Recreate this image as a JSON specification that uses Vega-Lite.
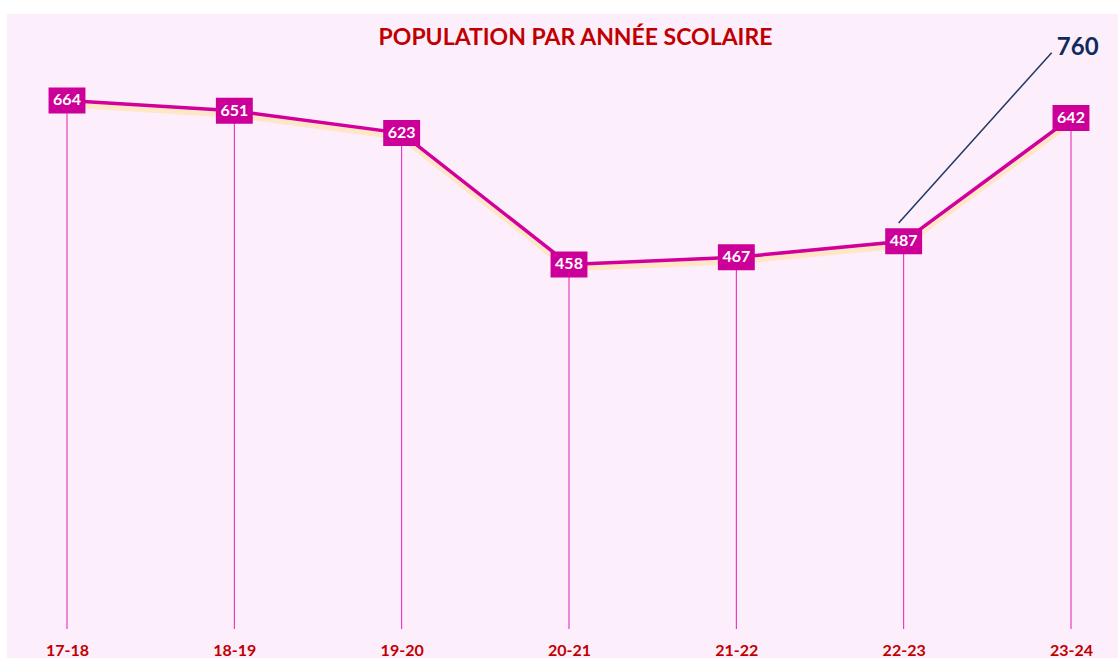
{
  "$schema": "https://vega.github.io/schema/vega-lite/v6.json",
  "width": 1111,
  "height": 644,
  "autosize": {"type": "none"},
  "padding": {"left": 7, "top": 14, "right": 0, "bottom": 0},
  "background": "white",
  "config": {"view": {"fill": "#FDEEFC", "stroke": null}},
  "title": {"text": "POPULATION PAR ANNÉE SCOLAIRE", "color": "#C00000", "font": "Lato", "fontSize": 23, "fontWeight": "bold", "anchor": "middle", "offset": -36, "dx": 13},
  "datasets": {
    "main": [
      {"year": "17-18", "value": 664},
      {"year": "18-19", "value": 651},
      {"year": "19-20", "value": 623},
      {"year": "20-21", "value": 458},
      {"year": "21-22", "value": 467},
      {"year": "22-23", "value": 487},
      {"year": "23-24", "value": 642}
    ],
    "note": [
      {"year": "22-23", "from": 510, "to": 724, "labelpos": 730, "label": "760"}
    ]
  },
  "encoding": {
    "x": {"field": "year", "type": "ordinal", "scale": {"type": "point", "range": [60, 1064], "padding": 0},
      "axis": {"title": null, "domain": false, "ticks": false, "grid": false, "labelAngle": 0, "labelColor": "#C00000", "labelFont": "Lato", "labelFontWeight": "bold", "labelFontSize": 16, "labelBaseline": "middle", "labelPadding": -8}}
  },
  "layer": [
    {
      "data": {"name": "main"},
      "mark": {"type": "rule", "color": "#E41DB4", "strokeWidth": 1},
      "encoding": {
        "y": {"field": "value", "type": "quantitative", "scale": {"domain": [-36.4, 772.6], "nice": false, "zero": false}, "axis": null},
        "y2": {"datum": 0}
      }
    },
    {
      "data": {"name": "main"},
      "mark": {"type": "line", "color": "#FFE2B0", "strokeWidth": 6, "opacity": 0.7, "yOffset": 4},
      "encoding": {"y": {"field": "value", "type": "quantitative"}}
    },
    {
      "data": {"name": "main"},
      "mark": {"type": "line", "color": "#D1009C", "strokeWidth": 3.5},
      "encoding": {"y": {"field": "value", "type": "quantitative"}}
    },
    {
      "data": {"name": "main"},
      "mark": {"type": "point", "shape": "M-1.42,-1H1.42V1H-1.42Z", "size": 676, "filled": true, "opacity": 1, "color": "#CC0099"},
      "encoding": {"y": {"field": "value", "type": "quantitative"}}
    },
    {
      "data": {"name": "main"},
      "mark": {"type": "text", "color": "white", "font": "Lato", "fontWeight": "bold", "fontSize": 16},
      "encoding": {"y": {"field": "value", "type": "quantitative"}, "text": {"field": "value", "type": "quantitative"}}
    },
    {
      "data": {"name": "note"},
      "mark": {"type": "rule", "color": "#1F3864", "strokeWidth": 1.5, "xOffset": -5, "x2Offset": 148},
      "encoding": {
        "x2": {"field": "year"},
        "y": {"field": "from", "type": "quantitative"},
        "y2": {"field": "to"}
      }
    },
    {
      "data": {"name": "note"},
      "mark": {"type": "text", "color": "#0F2A5C", "font": "Lato", "fontWeight": "bold", "fontSize": 24, "dx": 174},
      "encoding": {"y": {"field": "labelpos", "type": "quantitative"}, "text": {"field": "label"}}
    }
  ]
}
